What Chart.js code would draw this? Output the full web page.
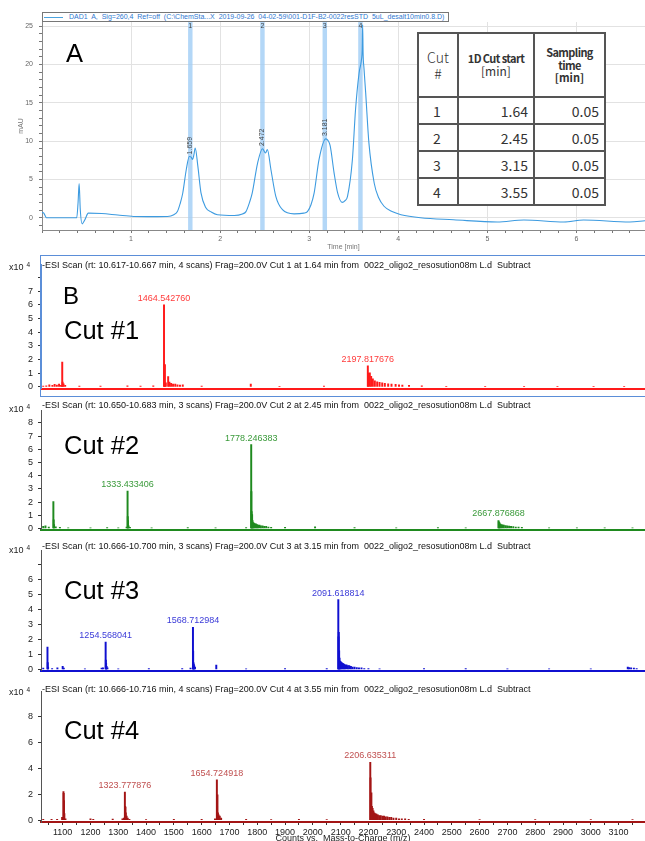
<!DOCTYPE html>
<html>
<head>
<meta charset="utf-8">
<script src="https://cdn.jsdelivr.net/npm/chart.js@4.4.1/dist/chart.umd.min.js"></script>
<style>
  body { margin: 0; background: #fff; }
  #page { position: relative; width: 645px; height: 841px; overflow: hidden; font-family: "Liberation Sans", Arial, sans-serif; }
  #page canvas { position: absolute; left: 0; }
  .txt { position: absolute; line-height: 1; white-space: pre; }
  .hdr { font-size: 9px; color: #111; left: 42px; }
  .x10 { font-size: 9px; color: #222; left: 9px; }
  .x10 span { font-size: 6.5px; position: relative; top: -3px; margin-left: 3px; }
  .big { font-size: 25.5px; color: #000; left: 64px; }
  #legendBox { position: absolute; left: 42px; top: 12px; height: 8px; padding-right: 4px; border: 1px solid #777;
    background: #fff; font-size: 7px; line-height: 8px; color: #2f78d0; white-space: pre; }
  #legendBox i { display: inline-block; width: 19px; height: 1px; background: #4aa3df; vertical-align: middle; margin: 0 6px 0 1px; }
  #cutTable { position: absolute; left: 417px; top: 32px; width: 187px; border-collapse: collapse; background: #fff;
    font-family: "Noto Sans CJK JP", sans-serif; color: #333; table-layout: fixed; }
  #cutTable td { border: 2px solid #555; padding: 0 5px 0 3px; height: 25px; font-size: 14px; line-height: 1; text-align: right; }
  #cutTable td.c { text-align: center; }
  #cutTable tr.head td { height: 62px; text-align: center; font-size: 11px; line-height: 1.15; padding: 0 2px; }
  #cutTable b { font-weight: 700; letter-spacing: -0.6px; }
  #panelFrame { position: absolute; left: 40px; top: 255px; width: 620px; height: 140px; border: 1.5px solid #5b8ed8; border-right: none; }
</style>
</head>
<body>
<div id="page">
  <canvas id="chromChart" width="645" height="252" style="top:0"></canvas>
  <div id="legendBox"><i></i>DAD1  A,  Sig=260,4  Ref=off  (C:\ChemSta...X  2019-09-26  04-02-59\001-D1F-B2-0022resSTD  5uL_desalt10min0.8.D)</div>
  <table id="cutTable">
    <colgroup><col style="width:40px"><col style="width:76px"><col style="width:71px"></colgroup>
    <tbody id="cutRows">
      <tr class="head">
        <td class="c" style="font-size:14px;font-weight:300">Cut<br>#</td>
        <td><b>1D Cut start</b><br><span style="font-size:12px">[min]</span></td>
        <td><b>Sampling<br>time</b><br><b style="letter-spacing:0">[min]</b></td>
      </tr>
    </tbody>
  </table>
  <div class="txt big" style="left:66px; top:41px">A</div>

  <canvas id="cut1Chart" width="645" height="145" style="top:254px"></canvas>
  <canvas id="cut2Chart" width="645" height="140" style="top:400px"></canvas>
  <canvas id="cut3Chart" width="645" height="141" style="top:540px"></canvas>
  <canvas id="cut4Chart" width="645" height="166" style="top:681px"></canvas>
  <div id="panelFrame"></div>

  <div class="txt hdr" style="top:261px">-ESI Scan (rt: 10.617-10.667 min, 4 scans) Frag=200.0V Cut 1 at 1.64 min from  0022_oligo2_resosution08m L.d  Subtract</div>
  <div class="txt hdr" style="top:401px">-ESI Scan (rt: 10.650-10.683 min, 3 scans) Frag=200.0V Cut 2 at 2.45 min from  0022_oligo2_resosution08m L.d  Subtract</div>
  <div class="txt hdr" style="top:542px">-ESI Scan (rt: 10.666-10.700 min, 3 scans) Frag=200.0V Cut 3 at 3.15 min from  0022_oligo2_resosution08m L.d  Subtract</div>
  <div class="txt hdr" style="top:685px">-ESI Scan (rt: 10.666-10.716 min, 4 scans) Frag=200.0V Cut 4 at 3.55 min from  0022_oligo2_resosution08m L.d  Subtract</div>
  <div class="txt x10" style="top:263px">x10<span>4</span></div>
  <div class="txt x10" style="top:405px">x10<span>4</span></div>
  <div class="txt x10" style="top:546px">x10<span>4</span></div>
  <div class="txt x10" style="top:688px">x10<span>4</span></div>

  <div class="txt big" style="left:63px; top:284px; font-size:24px">B</div>
  <div class="txt big" style="top:318px">Cut #1</div>
  <div class="txt big" style="top:433px">Cut #2</div>
  <div class="txt big" style="top:578px">Cut #3</div>
  <div class="txt big" style="top:718px">Cut #4</div>
</div>

<script>
// table + cut windows (A)
const cutNumbers = [1, 2, 3, 4];
const cutStart = [1.64, 2.45, 3.15, 3.55];
const samplingTime = [0.05, 0.05, 0.05, 0.05];

// UV trace, DAD1 260 nm
const chromTime = [0.0, 0.02, 0.05, 0.2, 0.39, 0.405, 0.417, 0.43, 0.45, 0.48, 0.52, 0.67, 0.85, 1.03, 1.25, 1.41,
  1.48, 1.52, 1.55, 1.58, 1.62, 1.654, 1.675, 1.69, 1.705, 1.72, 1.75, 1.785, 1.84, 1.9, 1.97, 2.16, 2.25, 2.29,
  2.33, 2.36, 2.42, 2.476, 2.51, 2.53, 2.57, 2.625, 2.7, 2.83, 2.94, 2.98, 3.02, 3.055, 3.11, 3.186, 3.21, 3.235,
  3.28, 3.32, 3.37, 3.4, 3.43, 3.485, 3.52, 3.56, 3.585, 3.595, 3.6, 3.605, 3.615, 3.634, 3.67, 3.73, 3.78, 3.84,
  3.93, 4.03, 4.25, 4.62, 5.11, 5.41, 5.86, 6.08, 6.6, 6.77];
const chromAbs = [0.7, 0.6, 0.0, 0.0, 0.0, 2.0, 4.45, 1.0, -0.8, -0.3, 0.6, 0.55, 0.35, 0.17, 0.15, 0.17,
  0.4, 0.8, 1.8, 3.2, 6.3, 8.0, 7.9, 7.6, 8.2, 9.1, 6.7, 3.25, 1.3, 0.75, 0.4, 0.3, 0.5, 0.8,
  2.0, 3.2, 7.1, 9.0, 8.45, 8.9, 6.3, 2.8, 1.05, 0.5, 0.6, 0.8, 1.7, 3.2, 7.6, 10.3, 10.1, 9.4,
  5.8, 3.2, 2.0, 2.2, 2.8, 7.6, 14.1, 18.9, 20.5, 22, 25.2, 21.5, 19.5, 16.3, 9.8, 4.5, 2.6, 1.5,
  0.8, 0.4, 0.0, -0.26, -0.56, -0.3, -0.55, -0.3, -0.55, -0.4];
const peakRT = [1.659, 2.472, 3.181];
const peakRTHeight = [8.0, 9.1, 10.4];

// MS spectra, intensity in counts x10^4
const mz1 = [1030, 1041, 1052, 1063, 1071, 1079, 1087, 1094, 1098.4, 1099.6, 1103, 1109, 1160, 1236, 1333, 1380, 1426,
  1464.542760, 1466.0, 1467.6, 1471, 1479.5, 1484, 1490, 1497, 1505, 1513, 1522, 1532, 1600, 1776.7, 1880, 2040,
  2197.817676, 2199.2, 2205, 2209.8, 2215.8, 2223, 2231.5, 2240, 2249.6, 2259, 2271, 2283, 2297.8, 2310, 2322, 2346, 2392,
  2480, 2620, 2760, 2880, 3010, 3120];
const int1 = [0.06, 0.08, 0.15, 0.1, 0.18, 0.12, 0.2, 0.1, 1.8, 0.35, 0.22, 0.1, 0.05, 0.06, 0.08, 0.05, 0.08,
  6.0, 1.65, 1.6, 0.3, 0.75, 0.35, 0.25, 0.2, 0.2, 0.15, 0.12, 0.15, 0.05, 0.2, 0.04, 0.05,
  1.53, 1.0, 1.03, 0.77, 0.59, 0.44, 0.36, 0.32, 0.3, 0.26, 0.22, 0.2, 0.18, 0.15, 0.12, 0.1, 0.08,
  0.04, 0.04, 0.04, 0.04, 0.04, 0.04];
const labels1 = [1464.542760, 2197.817676];

const mz2 = [1030, 1038, 1050, 1066.5, 1067.6, 1069, 1075, 1090, 1120, 1200, 1260, 1300, 1330,
  1333.433406, 1334.2, 1335.1, 1337, 1342, 1420, 1550, 1650, 1760,
  1778.246383, 1778.9, 1779.8, 1781.5, 1783, 1785, 1788, 1791, 1795, 1799, 1803, 1808, 1813, 1819, 1825, 1832, 1840, 1850,
  1900, 2008, 2150, 2300, 2450, 2550,
  2667.876868, 2669.2, 2671, 2674, 2678, 2682, 2687, 2693, 2699, 2706, 2713, 2721, 2730, 2740, 2752,
  2850, 2950, 3050, 3150];
const int2 = [0.15, 0.2, 0.1, 2.04, 0.66, 0.3, 0.12, 0.08, 0.05, 0.05, 0.06, 0.05, 0.1,
  2.84, 0.9, 0.6, 0.2, 0.08, 0.05, 0.06, 0.05, 0.06,
  6.35, 2.8, 1.27, 1.05, 0.6, 0.45, 0.4, 0.35, 0.35, 0.3, 0.25, 0.25, 0.2, 0.2, 0.15, 0.15, 0.1, 0.08,
  0.08, 0.12, 0.06, 0.05, 0.06, 0.05,
  0.6, 0.5, 0.45, 0.35, 0.3, 0.28, 0.25, 0.22, 0.2, 0.18, 0.15, 0.13, 0.1, 0.1, 0.08,
  0.05, 0.05, 0.04, 0.04];
const labels2 = [1333.433406, 1778.246383, 2667.876868];

const mz3 = [1030, 1045.3, 1046.3, 1047.5, 1062, 1081, 1100, 1104,
  1180, 1240, 1245, 1254.568041, 1255.3, 1256.2, 1258, 1261, 1300, 1410, 1530, 1560,
  1568.712984, 1569.4, 1570.3, 1571.5, 1573, 1576, 1652.6, 1760, 1900, 2050,
  2091.618814, 2092.4, 2093.3, 2094.6, 2096, 2098, 2101, 2104, 2108, 2112, 2116, 2121, 2126, 2131, 2137, 2143, 2150,
  2158, 2166, 2175, 2185, 2200, 2240, 2400, 2550, 2700, 2850, 3000, 3133, 3138, 3145, 3155, 3165];
const int3 = [0.08, 1.48, 0.45, 0.15, 0.06, 0.1, 0.2, 0.08,
  0.04, 0.08, 0.1, 1.82, 0.62, 0.4, 0.2, 0.1, 0.04, 0.05, 0.05, 0.08,
  2.8, 1.22, 0.45, 0.35, 0.25, 0.15, 0.28, 0.04, 0.05, 0.05,
  4.64, 2.17, 2.47, 1.24, 0.75, 0.55, 0.5, 0.45, 0.4, 0.35, 0.3, 0.3, 0.25, 0.25, 0.2, 0.15, 0.15,
  0.12, 0.1, 0.1, 0.06, 0.05, 0.04, 0.05, 0.05, 0.04, 0.04, 0.04, 0.15, 0.12, 0.1, 0.08, 0.06];
const labels3 = [1254.568041, 1568.712984, 2091.618814];

const mz4 = [1030, 1060, 1080, 1098, 1102.8, 1103.6, 1104.6, 1106, 1110, 1200, 1210, 1280, 1315, 1320,
  1323.777876, 1324.6, 1325.8, 1327, 1330, 1334, 1340, 1400, 1500, 1600, 1648,
  1654.724918, 1655.4, 1656.8, 1658.5, 1661, 1665, 1670, 1760, 1850, 1950, 2050,
  2206.635311, 2207.5, 2208.8, 2210.6, 2212.5, 2215, 2218, 2221, 2225, 2229, 2234, 2239, 2244, 2250, 2256, 2262,
  2268, 2275, 2282, 2290, 2300, 2310, 2320, 2332, 2345, 2400, 2600, 2800, 3000, 3150];
const int4 = [0.05, 0.05, 0.06, 0.2, 2.2, 2.05, 1.5, 0.5, 0.1, 0.1, 0.06, 0.08, 0.1, 0.15,
  2.15, 1.05, 1.0, 0.55, 0.3, 0.15, 0.06, 0.04, 0.05, 0.05, 0.1,
  3.1, 1.05, 1.95, 0.55, 0.4, 0.3, 0.15, 0.05, 0.04, 0.05, 0.04,
  4.45, 3.25, 1.5, 2.1, 1.05, 0.9, 0.7, 0.55, 0.5, 0.45, 0.4, 0.35, 0.35, 0.3, 0.3, 0.25,
  0.25, 0.2, 0.2, 0.15, 0.15, 0.1, 0.1, 0.1, 0.05, 0.05, 0.04, 0.04, 0.04, 0.04];
const labels4 = [1323.777876, 1654.724918, 2206.635311];

const mzTicks = [1100, 1200, 1300, 1400, 1500, 1600, 1700, 1800, 1900, 2000, 2100, 2200, 2300, 2400, 2500, 2600,
  2700, 2800, 2900, 3000, 3100];

// fill the cut table
const cutRows = document.getElementById("cutRows");
cutNumbers.forEach((n, i) => {
  const tr = document.createElement("tr");
  tr.innerHTML = `<td class="c">${n}</td><td>${cutStart[i].toFixed(2)}</td><td>${samplingTime[i].toFixed(2)}</td>`;
  cutRows.appendChild(tr);
});

const isWhole = (v) => Math.abs(v - Math.round(v)) < 1e-6;

// shaded cut windows + their numbers, RT labels on peaks
const cutBandPlugin = {
  id: "cutBands",
  beforeDatasetsDraw(chart) {
    const { ctx, chartArea, scales } = chart;
    ctx.save();
    cutStart.forEach((start, i) => {
      const x0 = scales.x.getPixelForValue(start);
      const x1 = scales.x.getPixelForValue(start + samplingTime[i]);
      ctx.fillStyle = "rgba(160, 205, 245, 0.8)";
      ctx.fillRect(x0, chartArea.top, x1 - x0, chartArea.bottom - chartArea.top);
      ctx.fillStyle = "#444";
      ctx.font = '7px "Liberation Sans", Arial';
      ctx.textAlign = "center";
      ctx.textBaseline = "top";
      ctx.fillText(String(cutNumbers[i]), (x0 + x1) / 2, chartArea.top + 1);
    });
    ctx.restore();
  },
  afterDatasetsDraw(chart) {
    const { ctx, scales } = chart;
    ctx.save();
    ctx.fillStyle = "#444";
    ctx.font = '7px "Liberation Sans", Arial';
    ctx.textAlign = "left";
    ctx.textBaseline = "middle";
    peakRT.forEach((rt, i) => {
      ctx.save();
      ctx.translate(scales.x.getPixelForValue(rt), scales.y.getPixelForValue(peakRTHeight[i]) - 2);
      ctx.rotate(-Math.PI / 2);
      ctx.fillText(rt.toFixed(3), 0, 0);
      ctx.restore();
    });
    ctx.restore();
  },
};

const chromCtx = document.getElementById("chromChart").getContext("2d");
const chromChart = new Chart(chromCtx, {
  type: "line",
  data: {
    datasets: [
      {
        data: chromTime.map((t, i) => ({ x: t, y: chromAbs[i] })),
        borderColor: "#3d9be0",
        borderWidth: 1.1,
        pointRadius: 0,
        cubicInterpolationMode: "monotone",
      },
    ],
  },
  options: {
    responsive: false,
    animation: false,
    events: [],
    layout: { padding: { top: 22, left: 0, right: 0, bottom: 0 } },
    scales: {
      x: {
        type: "linear",
        min: 0,
        max: 6.77,
        afterFit: (s) => { s.height = 22; },
        border: { color: "#888" },
        grid: {
          color: (c) => (c.tick && isWhole(c.tick.value) ? "#e2e2e2" : "transparent"),
          tickColor: "#777",
          tickLength: 3,
        },
        ticks: {
          stepSize: 0.2,
          includeBounds: false,
          autoSkip: false,
          maxRotation: 0,
          padding: 2,
          color: "#666",
          font: { size: 7, family: "Liberation Sans" },
          callback: (v) => (isWhole(v) && v > 0 ? String(Math.round(v)) : ""),
        },
        title: { display: true, text: "Time [min]", color: "#777", font: { size: 7, family: "Liberation Sans" }, padding: { top: 0, bottom: 1 } },
      },
      y: {
        min: -1.6,
        max: 25.55,
        afterFit: (s) => { s.width = 42; },
        border: { color: "#888" },
        grid: {
          color: (c) => (c.tick && c.tick.value % 5 === 0 ? "#e2e2e2" : "transparent"),
          tickColor: "#777",
          tickLength: 3,
        },
        ticks: {
          stepSize: 1,
          includeBounds: false,
          autoSkip: false,
          padding: 6,
          color: "#666",
          font: { size: 7, family: "Liberation Sans" },
          callback: (v) => (v % 5 === 0 ? String(v) : ""),
        },
        title: { display: true, text: "mAU", color: "#777", font: { size: 7, family: "Liberation Sans" }, padding: { top: 17, bottom: 0 } },
      },
    },
    plugins: {
      legend: { display: false },
      tooltip: { enabled: false },
    },
  },
  plugins: [cutBandPlugin],
});

// peak m/z labels above the annotated sticks
const peakLabelPlugin = {
  id: "peakLabels",
  afterDatasetsDraw(chart, args, opts) {
    const { ctx, scales } = chart;
    const points = chart.data.datasets[0].data;
    ctx.save();
    ctx.fillStyle = opts.color;
    ctx.font = '9px "Liberation Sans", Arial';
    ctx.textAlign = "center";
    ctx.textBaseline = "bottom";
    opts.peaks.forEach((p) => {
      const pt = points.find((d) => Math.abs(d.x - p) < 1e-6);
      ctx.fillText(p.toFixed(6), scales.x.getPixelForValue(p), scales.y.getPixelForValue(pt.y) - 2);
    });
    ctx.restore();
  },
};

function makeSpectrum(canvasId, mz, inten, barColor, labelColor, labels, yOpts) {
  const ctx = document.getElementById(canvasId).getContext("2d");
  return new Chart(ctx, {
    type: "bar",
    data: {
      datasets: [
        {
          data: mz.map((m, i) => ({ x: m, y: inten[i] })),
          backgroundColor: barColor,
          barThickness: 1.3,
          borderWidth: 0,
        },
      ],
    },
    options: {
      responsive: false,
      animation: false,
      events: [],
      layout: { padding: { top: yOpts.padTop, left: 0, right: 0, bottom: 0 } },
      scales: {
        x: {
          type: "linear",
          min: 1022,
          max: 3195,
          offset: false,
          afterFit: (s) => { s.height = yOpts.xHeight; },
          border: { color: barColor, width: 2 },
          grid: { offset: false, drawOnChartArea: false, drawTicks: yOpts.showX, tickLength: 3, tickColor: "#333" },
          ticks: {
            display: yOpts.showX,
            stepSize: 50,
            includeBounds: false,
            autoSkip: false,
            maxRotation: 0,
            padding: 2,
            color: "#222",
            font: { size: 9, family: "Liberation Sans" },
            callback: (v) => (mzTicks.includes(v) ? String(v) : ""),
          },
          title: {
            display: yOpts.showX,
            text: "Counts vs.  Mass-to-Charge (m/z)",
            color: "#222",
            font: { size: 9, family: "Liberation Sans" },
            padding: { top: 0, bottom: 3 },
          },
        },
        y: {
          min: yOpts.min,
          max: yOpts.max,
          afterFit: (s) => { s.width = 41; },
          border: { color: yOpts.axisColor, width: 1 },
          grid: { drawOnChartArea: false, tickLength: 3, tickColor: "#333" },
          ticks: {
            stepSize: yOpts.step,
            includeBounds: false,
            autoSkip: false,
            padding: 5,
            color: "#222",
            font: { size: 9, family: "Liberation Sans" },
            callback: (v) => (v === yOpts.hideLabel ? "" : String(v)),
          },
        },
      },
      plugins: {
        legend: { display: false },
        tooltip: { enabled: false },
        peakLabels: { peaks: labels, color: labelColor },
      },
    },
    plugins: [peakLabelPlugin],
  });
}

const cut1Chart = makeSpectrum("cut1Chart", mz1, int1, "#ff1a1a", "#ff3b3b", labels1,
  { min: -0.13, max: 8.95, step: 1, hideLabel: 8, padTop: 4, xHeight: 3, showX: false, axisColor: "#5b8ed8" });
const cut2Chart = makeSpectrum("cut2Chart", mz2, int2, "#1f8a1f", "#3a9a3a", labels2,
  { min: -0.09, max: 8.95, step: 1, hideLabel: null, padTop: 4, xHeight: 3, showX: false, axisColor: "#555" });
const cut3Chart = makeSpectrum("cut3Chart", mz3, int3, "#1010d0", "#3a3ad8", labels3,
  { min: -0.08, max: 7.91, step: 1, hideLabel: 7, padTop: 3, xHeight: 3, showX: false, axisColor: "#555" });
const cut4Chart = makeSpectrum("cut4Chart", mz4, int4, "#a31515", "#c05050", labels4,
  { min: -0.15, max: 9.9, step: 2, hideLabel: null, padTop: 5, xHeight: 25, showX: true, axisColor: "#555" });
</script>
</body>
</html>
